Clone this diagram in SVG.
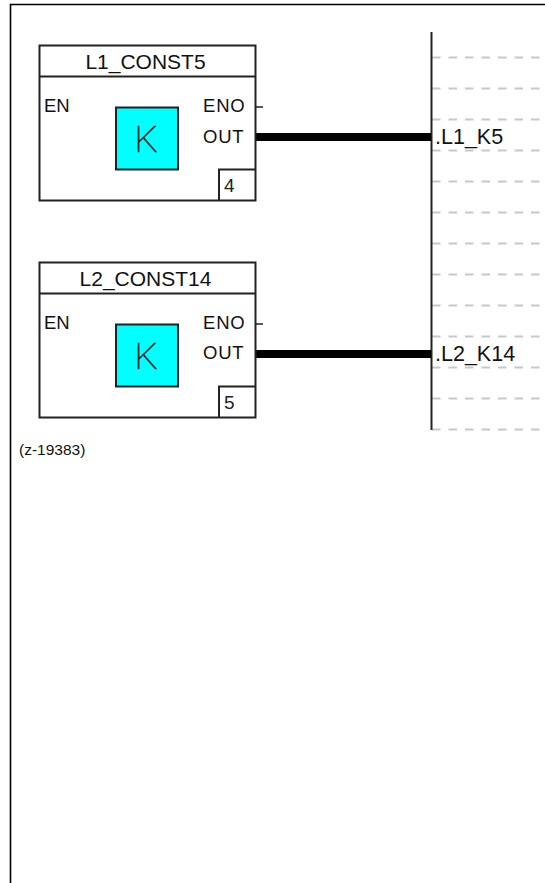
<svg xmlns="http://www.w3.org/2000/svg" width="545" height="883" viewBox="0 0 545 883">
<style>
text{font-family:"Liberation Sans",Arial,sans-serif;fill:#111}
.t{font-size:21px;text-anchor:middle}
.p{font-size:18.5px}
.r{font-size:18.5px;letter-spacing:.8px}
.s{font-size:19px;fill:#222}
.b{fill:#fff;stroke:#222;stroke-width:2}
.c{fill:#00ffff;stroke:#222;stroke-width:2}
.l{stroke:#222;stroke-width:2;fill:none}
.k{font-family:"Roboto","Liberation Sans",sans-serif;font-weight:100;font-size:37px;stroke:#111;stroke-width:.5px}
.d{stroke:#c8c8c8;stroke-width:2;stroke-dasharray:8.5 8;fill:none}
.w{stroke:#000;stroke-width:8;fill:none}
.n{font-size:21.5px}
</style>
<rect width="545" height="883" fill="#fff"/>
<path id="frame" d="M10.5 883V4.5H545" fill="none" stroke="#000" stroke-width="1.6"/>
<g id="connectors">
<path class="d" d="M432 57.5H540M432 88.5H540M432 119.5H540M432 150.5H540M432 181.5H540M432 212.5H540M432 243.5H540M432 274.5H540M432 305.5H540M432 336.5H540M432 367.5H540M432 398.5H540M432 429.5H540"/>
<path class="l" d="M431.5 32V430"/>
<path class="w" d="M256 137H431M256 354H431"/>
<path class="l" d="M256 107H263M256 324H263" style="stroke-width:1.5"/>
</g>
<g id="node-l1-const5">
<rect class="b" x="39.500" y="45.500" width="216" height="155"/>
<path class="l" d="M39.500 76.500H255.500"/>
<text class="t" x="145.500" y="69">L1_CONST5</text>
<text class="p" x="44" y="112">EN</text>
<text class="r" x="203" y="112">ENO</text>
<text class="r" x="203" y="143">OUT</text>
<rect class="c" x="116" y="107.500" width="62" height="62"/>
<text class="k" x="134.500" y="152">K</text>
<path class="l" d="M219 200.500V169.500H255.500"/>
<text class="s" x="224" y="192">4</text>
</g>
<g id="node-l2-const14">
<rect class="b" x="39.500" y="262.500" width="216" height="155"/>
<path class="l" d="M39.500 293.500H255.500"/>
<text class="t" x="145.500" y="286">L2_CONST14</text>
<text class="p" x="44" y="329">EN</text>
<text class="r" x="203" y="329">ENO</text>
<text class="r" x="203" y="359">OUT</text>
<rect class="c" x="116" y="324.500" width="62" height="62"/>
<text class="k" x="134.500" y="369">K</text>
<path class="l" d="M219 417.500V386.500H255.500"/>
<text class="s" x="224" y="409">5</text>
</g>
<g id="labels">
<text class="n" x="435" y="143.500">.L1_K5</text>
<text class="n" x="435" y="360.500">.L2_K14</text>
<text x="19" y="455" style="font-size:15.500px">(z-19383)</text>
</g>
</svg>
